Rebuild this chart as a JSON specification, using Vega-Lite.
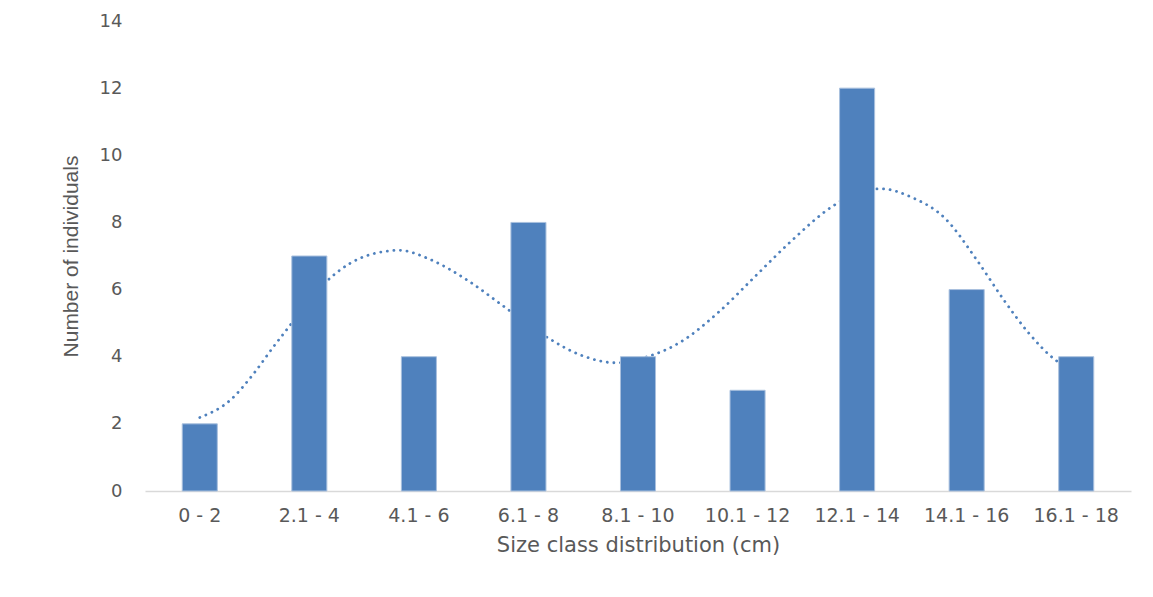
{
  "$schema": "https://vega.github.io/schema/vega-lite/v6.json",
  "width": 986,
  "height": 470,
  "autosize": "none",
  "padding": {"left": 145, "top": 21, "right": 22, "bottom": 106},
  "background": "#ffffff",
  "config": {"view": {"stroke": null}, "font": "DejaVu Sans"},
  "datasets": {
    "bars": [
      {"class": "0 - 2", "value": 2},
      {"class": "2.1 - 4", "value": 7},
      {"class": "4.1 - 6", "value": 4},
      {"class": "6.1 - 8", "value": 8},
      {"class": "8.1 - 10", "value": 4},
      {"class": "10.1 - 12", "value": 3},
      {"class": "12.1 - 14", "value": 12},
      {"class": "14.1 - 16", "value": 6},
      {"class": "16.1 - 18", "value": 4}
    ],
    "trend": [
      {"pos": 1.0, "value": 2.19},
      {"pos": 1.276, "value": 2.7},
      {"pos": 1.488, "value": 3.48},
      {"pos": 1.671, "value": 4.29},
      {"pos": 1.823, "value": 4.93},
      {"pos": 1.976, "value": 5.59},
      {"pos": 2.125, "value": 6.14},
      {"pos": 2.371, "value": 6.78},
      {"pos": 2.675, "value": 7.13},
      {"pos": 2.821, "value": 7.17},
      {"pos": 3.101, "value": 6.9},
      {"pos": 3.451, "value": 6.26},
      {"pos": 3.77, "value": 5.51},
      {"pos": 4.135, "value": 4.65},
      {"pos": 4.501, "value": 4.02},
      {"pos": 4.79, "value": 3.82},
      {"pos": 5.063, "value": 3.98},
      {"pos": 5.385, "value": 4.43},
      {"pos": 5.74, "value": 5.34},
      {"pos": 6.062, "value": 6.37},
      {"pos": 6.384, "value": 7.4},
      {"pos": 6.771, "value": 8.47},
      {"pos": 7.081, "value": 8.98},
      {"pos": 7.223, "value": 9.0},
      {"pos": 7.497, "value": 8.75},
      {"pos": 7.803, "value": 8.12},
      {"pos": 8.093, "value": 6.88},
      {"pos": 8.335, "value": 5.71},
      {"pos": 8.56, "value": 4.73},
      {"pos": 8.819, "value": 3.88},
      {"pos": 9.0, "value": 3.55}
    ]
  },
  "encoding": {
    "y": {
      "field": "value",
      "type": "quantitative",
      "scale": {"domain": [0, 14], "nice": false},
      "axis": {
        "title": "Number of individuals",
        "values": [0, 2, 4, 6, 8, 10, 12, 14],
        "domain": false,
        "ticks": false,
        "grid": false,
        "labelFont": "DejaVu Sans",
        "labelFontSize": 18,
        "labelColor": "#595959",
        "labelPadding": 23,
        "titleFont": "Liberation Sans Narrow, Arial Narrow, sans-serif",
        "titleFontSize": 21,
        "titleFontWeight": "normal",
        "titleColor": "#595959",
        "titlePadding": 18
      }
    }
  },
  "layer": [
    {
      "data": {"name": "trend"},
      "mark": {
        "type": "line",
        "color": "#4F81BD",
        "strokeWidth": 2.8,
        "strokeDash": [0.1, 6.5],
        "strokeCap": "round",
        "interpolate": "monotone"
      },
      "encoding": {
        "x": {
          "field": "pos",
          "type": "quantitative",
          "scale": {"domain": [0.5, 9.5], "nice": false, "zero": false},
          "axis": null
        }
      }
    },
    {
      "data": {"name": "bars"},
      "mark": {"type": "bar", "color": "#4F81BD", "stroke": "#A9C0DE", "strokeWidth": 1},
      "encoding": {
        "x": {
          "field": "class",
          "type": "nominal",
          "sort": null,
          "scale": {"paddingInner": 0.68, "paddingOuter": 0.34},
          "axis": {
            "title": "Size class distribution (cm)",
            "labelAngle": 0,
            "domainColor": "#D9D9D9",
            "domainWidth": 1.5,
            "ticks": false,
            "grid": false,
            "labelFont": "DejaVu Sans",
            "labelFontSize": 19,
            "labelColor": "#595959",
            "labelPadding": 15,
            "titleFont": "DejaVu Sans",
            "titleFontSize": 21,
            "titleFontWeight": "normal",
            "titleColor": "#595959",
            "titlePadding": 9
          }
        }
      }
    }
  ],
  "resolve": {"scale": {"x": "independent"}}
}
